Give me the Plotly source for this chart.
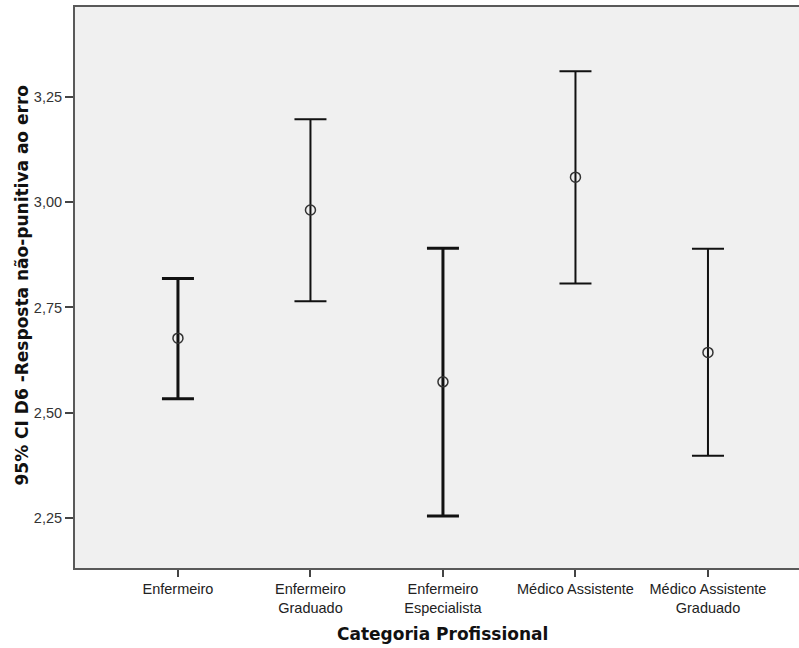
import plotly.graph_objects as go

categories = ["Enfermeiro", "Enfermeiro<br>Graduado", "Enfermeiro<br>Especialista",
              "Médico Assistente", "Médico Assistente<br>Graduado"]
means = [2.677, 2.982, 2.573, 3.060, 2.643]
upper = [2.819, 3.198, 2.891, 3.312, 2.890]
lower = [2.533, 2.765, 2.254, 2.807, 2.397]
thick = [3, 2, 3, 2, 2]

fig = go.Figure()
xs = list(range(len(categories)))
for i in xs:
    fig.add_trace(go.Scatter(
        x=[i], y=[means[i]], mode="markers",
        marker=dict(symbol="circle-open", size=10, color="#333333", line=dict(width=1.5)),
        error_y=dict(type="data", symmetric=False,
                     array=[upper[i] - means[i]], arrayminus=[means[i] - lower[i]],
                     color="#111111", thickness=thick[i], width=16),
        showlegend=False, hoverinfo="skip"))

fig.update_layout(
    width=799, height=648,
    margin=dict(l=75, r=0, t=7, b=80),
    paper_bgcolor="white", plot_bgcolor="#F0F0F0",
    separators=",.",
    font=dict(family="Arial, Liberation Sans, sans-serif", color="#222222"),
    xaxis=dict(tickmode="array", tickvals=xs, ticktext=categories,
               range=[-0.777, 4.687], showgrid=False, zeroline=False,
               showline=True, linecolor="#595959", linewidth=2, mirror=True,
               ticks="outside", ticklen=7, tickcolor="#444444", tickwidth=1.5,
               tickfont=dict(size=14.5, color="#222222")),
    yaxis=dict(range=[2.130, 3.465], tickvals=[2.25, 2.50, 2.75, 3.00, 3.25],
               tickformat=".2f", showgrid=False, zeroline=False,
               showline=True, linecolor="#595959", linewidth=2,
               ticks="outside", ticklen=8, tickcolor="#444444", tickwidth=1.5,
               tickfont=dict(size=14.5, color="#333333")),
    annotations=[
        dict(text="<b>95% CI D6 -Resposta não-punitiva ao erro</b>", textangle=-90,
             xref="paper", yref="paper", x=0, y=0.5, xshift=-54, yshift=2,
             xanchor="center", yanchor="middle", showarrow=False,
             font=dict(family="DejaVu Sans", size=17, color="#111111")),
        dict(text="<b>Categoria Profissional</b>",
             xref="x", yref="paper", x=2, y=0, yshift=-66,
             xanchor="center", yanchor="middle", showarrow=False,
             font=dict(family="DejaVu Sans", size=17, color="#111111")),
    ],
)

fig.write_html("out.html")
